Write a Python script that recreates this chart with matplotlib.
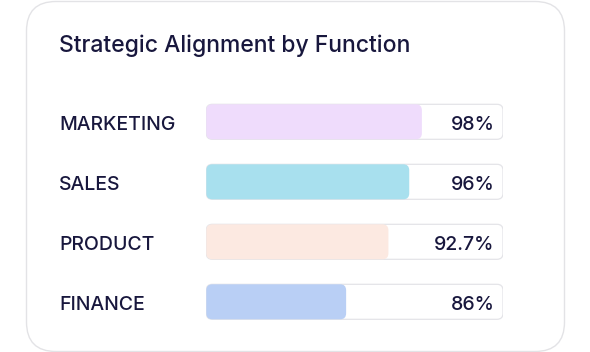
import matplotlib
matplotlib.use("Agg")
import matplotlib.pyplot as plt
from matplotlib.patches import FancyBboxPatch

functions = ["MARKETING", "SALES", "PRODUCT", "FINANCE"]
alignment = [98, 96, 92.7, 86]
value_labels = ["98%", "96%", "92.7%", "86%"]
bar_colors = ["#efdcfc", "#a8e0ee", "#fce9e1", "#b9cff5"]

ink = "#18173d"
plt.rcParams['font.family'] = ['Inter', 'DejaVu Sans']

W, H = 590, 352
fig = plt.figure(figsize=(W / 100, H / 100), dpi=100)
fig.patch.set_facecolor("white")

# card
card = FancyBboxPatch((26.5 / W, 0.5 / H), 538 / W, 350 / H,
                      boxstyle="round,pad=0,rounding_size=0.05",
                      transform=fig.transFigure, facecolor="white",
                      edgecolor="#e3e3e6", linewidth=1.0, mutation_aspect=W / H,
                      zorder=-5)
fig.patches.append(card)

fig.text(59 / W, 1 - 51.7 / H, "Strategic Alignment by Function", fontsize=16.5,
         color=ink, ha="left", va="baseline", fontweight="medium")

# axes covers the tracks: rows 60 px apart
ax_l, ax_r = 206, 503.3
ax_top, ax_bot = 91.8, 331.8
ax = fig.add_axes([ax_l / W, 1 - ax_bot / H, (ax_r - ax_l) / W, (ax_bot - ax_top) / H])
ax.set_axis_off()
lo, hi = 63.8, 110.9
ax.set_xlim(lo, hi)
ax.set_ylim(3.5, -0.5)

bar_h = 35 / 60
px_x = (ax_r - ax_l) / (hi - lo)
px_y = 60.0
r = 6 / px_x
asp = px_x / px_y
base_off = 8.5 / px_y  # baseline below row centre

for i, (name, v, lab, c) in enumerate(zip(functions, alignment, value_labels, bar_colors)):
    track = FancyBboxPatch((lo + 0.05, i - bar_h / 2), hi - lo - 0.1, bar_h,
                           boxstyle=f"round,pad=0,rounding_size={r}",
                           mutation_aspect=asp, facecolor="white",
                           edgecolor="#e4e4e8", linewidth=0.9, zorder=1)
    ax.add_patch(track)
    fill = FancyBboxPatch((lo + 0.05, i - bar_h / 2), v - lo - 0.05, bar_h,
                          boxstyle=f"round,pad=0,rounding_size={r}",
                          mutation_aspect=asp, facecolor=c,
                          edgecolor="none", zorder=2)
    ax.add_patch(fill)
    ax.text(hi - 9 / px_x, i + base_off, lab, ha="right", va="baseline",
            fontsize=14, color=ink, zorder=3, fontweight="medium")
    fig.text(59 / W, 1 - (130.5 + 60 * i) / H, name, ha="left", va="baseline",
             fontsize=14, color=ink, fontweight="medium")

fig.savefig("out.png", dpi=100, facecolor="white")
